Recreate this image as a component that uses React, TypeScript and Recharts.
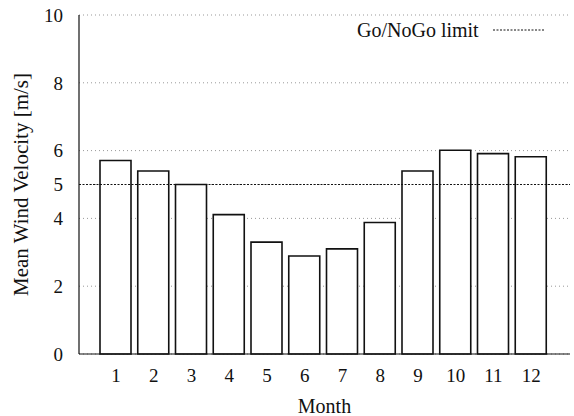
import { BarChart, Bar, XAxis, YAxis, CartesianGrid, ReferenceLine, Legend } from 'recharts'

// monthly mean wind velocity, m/s
const months = ['1', '2', '3', '4', '5', '6', '7', '8', '9', '10', '11', '12']
const velocity = [5.71, 5.4, 5.0, 4.11, 3.3, 2.89, 3.1, 3.88, 5.4, 6.01, 5.91, 5.82]
const yTicks = [0, 2, 4, 5, 6, 8, 10]
const goNoGoLimit = 5

const data = months.map((m, i) => ({ month: m, v: velocity[i] }))

const FONT = '"Liberation Serif", "Times New Roman", serif'

function LimitLegend() {
  return (
    <div style={{ display: 'flex', alignItems: 'center', fontFamily: FONT, fontSize: 20, color: '#111', whiteSpace: 'nowrap' }}>
      <span>Go/NoGo limit</span>
      <svg width={64} height={10} style={{ marginLeft: 12 }}>
        <line x1={2} y1={4} x2={53} y2={4} stroke="#111" strokeWidth={1} strokeDasharray="2 1.5" />
      </svg>
    </div>
  )
}

export default function App() {
  return (
    <div style={{ position: 'absolute', left: 0, top: 0, width: 574, height: 416, background: '#fff' }}>
      <BarChart width={574} height={416} data={data} margin={{ top: 15, right: 4, left: 0, bottom: 0 }} barSize={31}>
        <CartesianGrid vertical={false} stroke="#999" strokeDasharray="1 3" />
        <XAxis
          dataKey="month"
          height={62}
          padding={{ left: 18, right: 20 }}
          tickLine={false}
          tickSize={6}
          tickMargin={9}
          axisLine={{ stroke: '#111', strokeWidth: 1.2 }}
          tick={{ fill: '#111', fontSize: 19, fontFamily: FONT }}
          label={({ viewBox }: any) => (
            <text x={viewBox.x + viewBox.width / 2} y={413} textAnchor="middle" fill="#111" fontSize={20} fontFamily={FONT}>
              Month
            </text>
          )}
        />
        <YAxis
          width={79}
          domain={[0, 10]}
          ticks={yTicks}
          interval={0}
          tickLine={false}
          tickSize={6}
          tickMargin={10}
          axisLine={{ stroke: '#111', strokeWidth: 1.2 }}
          tick={{ fill: '#111', fontSize: 19, fontFamily: FONT }}
          label={({ viewBox }: any) => {
            const cx = 21
            const cy = viewBox.y + viewBox.height / 2
            return (
              <text x={cx} y={cy} transform={`rotate(-90, ${cx}, ${cy})`} textAnchor="middle" dominantBaseline="central" fill="#111" fontSize={21} fontFamily={FONT}>
                Mean Wind Velocity [m/s]
              </text>
            )
          }}
        />
        <Legend layout="vertical" align="center" verticalAlign="middle" content={() => <LimitLegend />} wrapperStyle={{ top: 19, left: 357, width: 'auto' }} />
        <ReferenceLine y={goNoGoLimit} stroke="#111" strokeWidth={1} strokeDasharray="2 1.5" />
        <Bar dataKey="v" fill="#fff" stroke="#111" strokeWidth={1.6} isAnimationActive={false} />
      </BarChart>
    </div>
  )
}
